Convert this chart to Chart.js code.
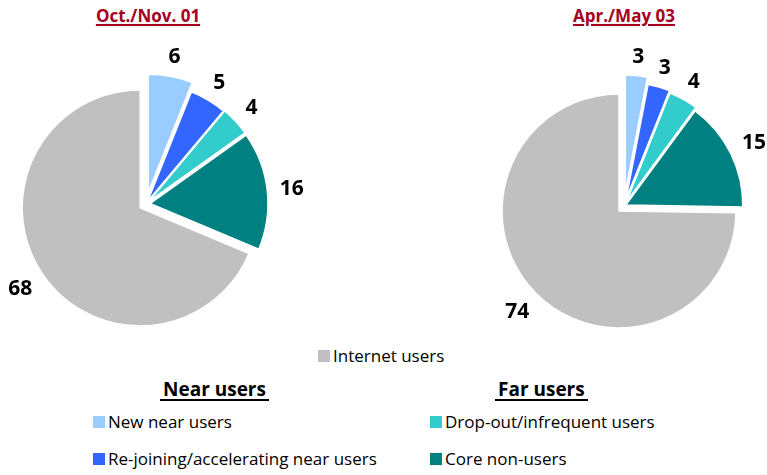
<!DOCTYPE html>
<html>
<head>
<meta charset="utf-8">
<title>Near users / Far users</title>
<script src="https://cdn.jsdelivr.net/npm/chart.js@4.4.1/dist/chart.umd.min.js"></script>
<style>
  body { margin: 0; background: #fff; font-family: "Open Sans", sans-serif; }
  #stage { position: relative; width: 767px; height: 475px; overflow: hidden; background: #fff; }
  canvas { position: absolute; }
  .title {
    position: absolute; width: 200px; text-align: center;
    font-size: 17px; font-weight: bold; line-height: 20px; color: #a50021;
    text-decoration: underline; text-decoration-thickness: 2px; text-underline-offset: 2px;
  }
  .heading {
    position: absolute; font-size: 19px; font-weight: bold; line-height: 20px; color: #000;
    padding: 0 3px; border-bottom: 2px solid #000;
  }
  .item { position: absolute; font-size: 17px; line-height: 20px; color: #000; white-space: nowrap; }
  .item .box { display: inline-block; width: 12px; height: 12px; margin-right: 3px; vertical-align: baseline; }
</style>
</head>
<body>
<div id="stage">
  <div class="title" id="title-left"></div>
  <div class="title" id="title-right"></div>
  <canvas id="pie-left" width="340" height="340"></canvas>
  <canvas id="pie-right" width="340" height="340"></canvas>
  <div id="legend"></div>
</div>

<script>
// données
const categories = [
  "New near users",
  "Re-joining/accelerating near users",
  "Drop-out/infrequent users",
  "Core non-users",
  "Internet users",
];
const periods = ["Oct./Nov. 01", "Apr./May 03"];
const valuesOct01 = [6, 5, 4, 16, 68];
const valuesApr03 = [3, 3, 4, 15, 74];

const nearIdx = [0, 1];
const farIdx = [2, 3];
const internetIdx = 4;

const colors = ["#99ccff", "#3366ff", "#33cccc", "#008080", "#c0c0c0"];

// explosion des parts (px)
const explodeLeft = [12, 3, 4, 4, 7];
const explodeRight = [14, 7, 5, 2, 7];

const $ = (sel, root = document) => root.querySelector(sel);

// décale chaque part le long de sa bissectrice
function explodePlugin(dist) {
  return {
    id: "explode",
    afterDatasetUpdate(chart, args) {
      args.meta.data.forEach((arc, i) => {
        const mid = (arc.startAngle + arc.endAngle) / 2;
        const d = dist[i] || 0;
        arc.x += Math.cos(mid) * d;
        arc.y += Math.sin(mid) * d;
      });
    },
  };
}

// étiquettes de valeurs à l'extérieur des parts
const valueLabels = {
  id: "valueLabels",
  afterDatasetsDraw(chart) {
    const ctx = chart.ctx;
    const meta = chart.getDatasetMeta(0);
    const values = chart.data.datasets[0].data;
    ctx.save();
    ctx.font = "bold 21px 'Open Sans', sans-serif";
    ctx.fillStyle = "#000";
    ctx.textAlign = "center";
    ctx.textBaseline = "middle";
    meta.data.forEach((arc, i) => {
      const mid = (arc.startAngle + arc.endAngle) / 2;
      const txt = String(values[i]);
      const w = ctx.measureText(txt).width;
      const h = 15;
      const cos = Math.cos(mid);
      const sin = Math.sin(mid);
      const d = arc.outerRadius + 12 + (Math.abs(cos) * w) / 2 + (Math.abs(sin) * h) / 2;
      ctx.fillText(txt, arc.x + cos * d, arc.y + sin * d + 1);
    });
    ctx.restore();
  },
};

function makePie(canvasId, values, radius, explode) {
  const canvas = document.getElementById(canvasId);
  return new Chart(canvas, {
    type: "pie",
    data: {
      labels: categories,
      datasets: [
        {
          data: values,
          backgroundColor: colors,
          borderColor: "#ffffff",
          borderWidth: 1.5,
        },
      ],
    },
    options: {
      responsive: false,
      animation: false,
      events: [],
      radius: radius,
      layout: { padding: 0 },
      plugins: {
        legend: { display: false },
        tooltip: { enabled: false },
      },
    },
    plugins: [explodePlugin(explode), valueLabels],
  });
}

function placeTitles() {
  const left = $("#title-left");
  const right = $("#title-right");
  left.textContent = periods[0];
  right.textContent = periods[1];
  Object.assign(left.style, { left: "48px", top: "6px" });
  Object.assign(right.style, { left: "524px", top: "6px" });
}

function addItem(root, idx, x, y) {
  const el = document.createElement("div");
  el.className = "item";
  el.style.left = x + "px";
  el.style.top = y + "px";
  const box = document.createElement("span");
  box.className = "box";
  box.style.background = colors[idx];
  el.appendChild(box);
  el.appendChild(document.createTextNode(categories[idx]));
  root.appendChild(el);
}

function addHeading(root, text, x, y) {
  const el = document.createElement("div");
  el.className = "heading";
  el.style.left = x + "px";
  el.style.top = y + "px";
  el.textContent = text;
  root.appendChild(el);
}

function buildLegend() {
  const root = $("#legend");
  addItem(root, internetIdx, 318, 346);
  addHeading(root, "Near users", 160, 379);
  addHeading(root, "Far users", 495, 379);
  const rows = [412, 449];
  nearIdx.forEach((idx, k) => addItem(root, idx, 93, rows[k]));
  farIdx.forEach((idx, k) => addItem(root, idx, 430, rows[k]));
}

document.addEventListener("DOMContentLoaded", () => {
  // centre gauche (146,204), droite (624,206)
  const cl = $("#pie-left");
  cl.style.left = "-24px";
  cl.style.top = "34px";
  const cr = $("#pie-right");
  cr.style.left = "454px";
  cr.style.top = "36px";

  placeTitles();
  makePie("pie-left", valuesOct01, 118, explodeLeft);
  makePie("pie-right", valuesApr03, 117, explodeRight);
  buildLegend();
});
</script>
</body>
</html>
